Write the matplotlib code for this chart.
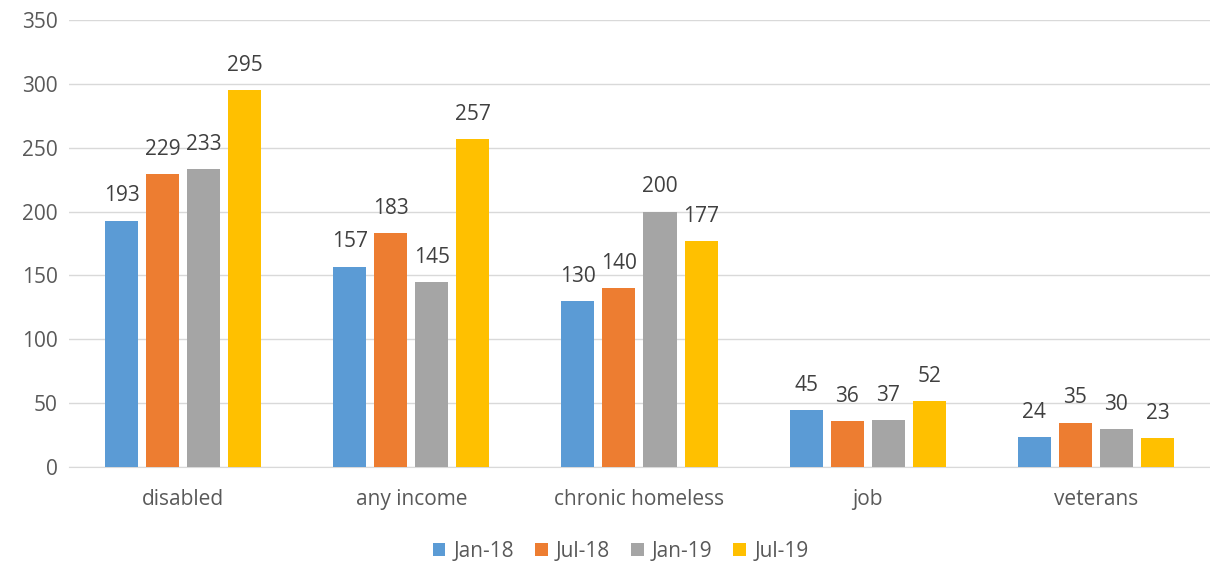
import numpy as np
import matplotlib

matplotlib.use("Agg")
import matplotlib.pyplot as plt

plt.rcParams["font.family"] = ["Open Sans", "DejaVu Sans"]

categories = ["disabled", "any income", "chronic homeless", "job", "veterans"]
series_names = ["Jan-18", "Jul-18", "Jan-19", "Jul-19"]
jan18 = [193, 157, 130, 45, 24]
jul18 = [229, 183, 140, 36, 35]
jan19 = [233, 145, 200, 37, 30]
jul19 = [295, 257, 177, 52, 23]
colors = ["#5B9BD5", "#ED7D31", "#A5A5A5", "#FFC000"]

fig = plt.figure(figsize=(12.1, 5.65), dpi=100)
ax = fig.add_axes([0.057, 0.173, 0.943, 0.792])

x = np.arange(len(categories))
width = 0.145
step = 0.18
for i, (name, vals) in enumerate(zip(series_names, [jan18, jul18, jan19, jul19])):
    pos = x + (i - 1.5) * step
    bars = ax.bar(pos, vals, width, color=colors[i], label=name, zorder=3)
    for b, v in zip(bars, vals):
        ax.text(b.get_x() + b.get_width() / 2, v + 11, str(v), ha="center", va="bottom",
                fontsize=15, color="#404040")

ax.set_xlim(-0.5, len(categories) - 0.5)
ax.set_ylim(0, 350)
ax.set_yticks(range(0, 351, 50))
ax.set_xticks(x)
ax.set_xticklabels(categories)
ax.tick_params(axis="both", length=0, labelsize=15, colors="#595959")
ax.tick_params(axis="x", pad=16)
ax.tick_params(axis="y", pad=8)
ax.grid(axis="y", color="#D9D9D9", linewidth=1, zorder=0)
for s in ["top", "right", "left"]:
    ax.spines[s].set_visible(False)
ax.spines["bottom"].set_color("#D9D9D9")

fig.legend(loc="lower center", ncol=4, frameon=False, fontsize=15, bbox_to_anchor=(0.513, -0.028),
           handlelength=0.6, handleheight=0.6, handletextpad=0.4, columnspacing=1.0,
           labelcolor="#595959")

fig.savefig("out.png", dpi=100)
